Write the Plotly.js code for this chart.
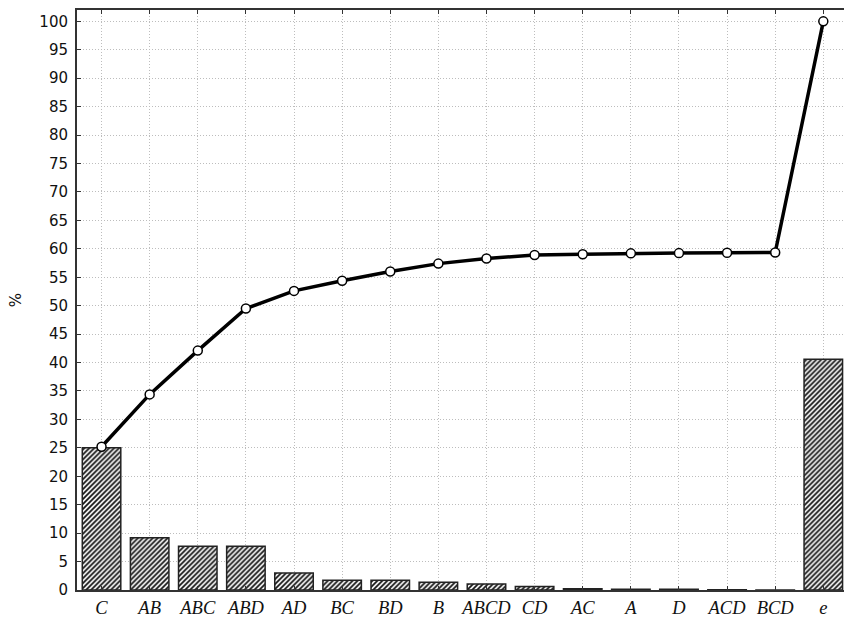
<!DOCTYPE html>
<html>
<head>
<meta charset="utf-8">
<script src="https://cdn.plot.ly/plotly-3.0.1.min.js"></script>
<style>html,body{margin:0;padding:0;background:#fff;}#chart{width:844px;height:619px;}</style>
</head>
<body>
<div id="chart"></div>
<script>
const categories = ["C","AB","ABC","ABD","AD","BC","BD","B","ABCD","CD","AC","A","D","ACD","BCD","e"];
const effectValues = [25.0, 9.2, 7.7, 7.7, 3.0, 1.7, 1.7, 1.35, 1.05, 0.6, 0.2, 0.15, 0.12, 0.03, 0.02, 40.6];
const cumulativeValues = [25.2, 34.4, 42.1, 49.5, 52.6, 54.4, 56.0, 57.4, 58.3, 58.9, 59.05, 59.2, 59.25, 59.3, 59.35, 100];
const yTicks = [0,5,10,15,20,25,30,35,40,45,50,55,60,65,70,75,80,85,90,95,100];

const xIdx = categories.map((c, i) => i);

const bars = {
  type: 'bar',
  x: xIdx,
  y: effectValues,
  width: 0.8,
  marker: {
    color: '#ffffff',
    line: {color: '#222', width: 1.5},
    pattern: {shape: '/', fgcolor: '#111', bgcolor: '#ffffff', size: 3.5, solidity: 0.5}
  },
  hoverinfo: 'skip',
  showlegend: false
};

const line = {
  type: 'scatter',
  mode: 'lines+markers',
  x: xIdx,
  y: cumulativeValues,
  line: {color: '#000', width: 3.5},
  marker: {symbol: 'circle', size: 9, color: '#fff', line: {color: '#000', width: 1.5}},
  cliponaxis: false,
  showlegend: false
};

const gridStyle = {showgrid: true, gridcolor: '#bdbdbd', griddash: '1px,2px', gridwidth: 1};

const layout = {
  width: 844, height: 619,
  margin: {l: 77, r: 0, t: 10, b: 29},
  paper_bgcolor: '#fff',
  plot_bgcolor: '#fff',
  xaxis: Object.assign({
    range: [-0.51, 15.43],
    tickvals: xIdx,
    ticktext: categories,
    tickfont: {family: 'Liberation Serif', size: 18.5, color: '#111', style: 'italic'},
    ticks: 'inside',
    ticklen: 4,
    tickcolor: '#333',
    showline: true,
    linecolor: '#333',
    linewidth: 2,
    mirror: 'ticks',
    zeroline: false,
    fixedrange: true
  }, gridStyle),
  yaxis: Object.assign({
    range: [0, 102],
    tickvals: yTicks,
    ticktext: yTicks.map(String),
    tickfont: {family: 'DejaVu Sans', size: 15, color: '#111'},
    ticks: 'inside',
    ticklen: 4,
    tickcolor: '#333',
    showline: true,
    linecolor: '#333',
    linewidth: 2,
    zeroline: false,
    ticklabelstandoff: 4,
    title: {text: '%', font: {family: 'DejaVu Sans', size: 15, color: '#111'}, standoff: 14},
    fixedrange: true
  }, gridStyle)
};

Plotly.newPlot('chart', [bars, line], layout, {displayModeBar: false, staticPlot: true});
</script>
</body>
</html>
